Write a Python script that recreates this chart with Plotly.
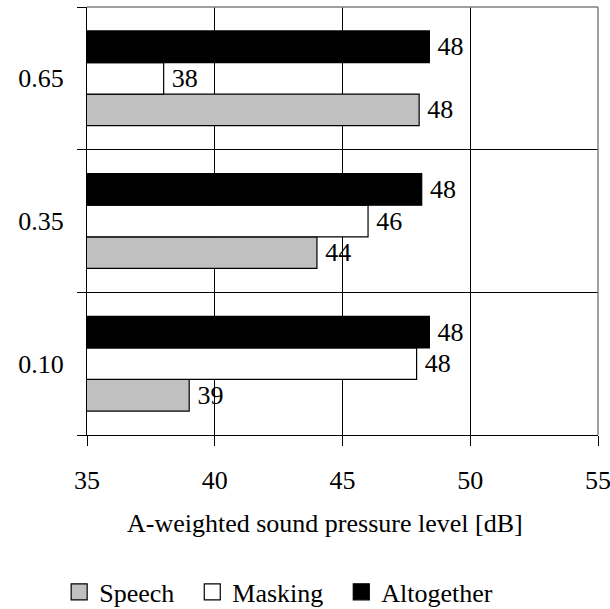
import plotly.graph_objects as go

# Relative level categories (bottom to top)
categories = ["0.10", "0.35", "0.65"]

# A-weighted sound pressure level [dB] per series
speech = [39.0, 44.0, 48.0]
masking = [47.9, 46.0, 38.0]
altogether = [48.4, 48.1, 48.4]

series_names = ["Speech", "Masking", "Altogether"]
series_values = [speech, masking, altogether]
series_fill = ["#c0c0c0", "#ffffff", "#000000"]

x_ticks = [35, 40, 45, 50, 55]
x_title = "A-weighted sound pressure level [dB]"

FONT = "Liberation Serif, Times New Roman, serif"
FS = 26
NBSP = "\u00a0"

fig = go.Figure()
for name, vals, fill in zip(series_names, series_values, series_fill):
    fig.add_trace(go.Bar(
        name=name,
        y=categories,
        x=vals,
        orientation="h",
        marker=dict(color=fill, line=dict(color="#000000", width=1.2)),
        texttemplate="\u2009%{x:.0f}",
        textposition="outside",
        textfont=dict(family=FONT, size=FS, color="#000000"),
        constraintext="none",
        cliponaxis=False,
        showlegend=False,
    ))

# Legend entries drawn as square swatches
for name, fill in zip(series_names, series_fill):
    fig.add_trace(go.Scatter(
        name=name + NBSP * 2,
        x=[None],
        y=[None],
        mode="markers",
        marker=dict(symbol="square", size=16, color=fill,
                    line=dict(color="#000000", width=1.2)),
        showlegend=True,
    ))

fig.update_layout(
    width=610,
    height=609,
    margin=dict(l=87, r=12, t=7, b=174),
    paper_bgcolor="#ffffff",
    plot_bgcolor="#ffffff",
    barmode="group",
    bargap=0.336,
    bargroupgap=0,
    font=dict(family=FONT, size=FS, color="#000000"),
    showlegend=True,
    legend=dict(
        orientation="h",
        xref="container",
        yref="container",
        x=0.097,
        xanchor="left",
        y=0.028,
        yanchor="middle",
        font=dict(family=FONT, size=FS, color="#000000"),
        traceorder="normal",
        itemwidth=30,
    ),
    xaxis=dict(
        range=[35, 55],
        tickvals=x_ticks,
        ticktext=[str(v) for v in x_ticks],
        ticks="outside",
        ticklen=10,
        tickcolor="#000000",
        showline=True,
        linecolor="#000000",
        linewidth=1,
        showgrid=True,
        gridcolor="#000000",
        gridwidth=1,
        zeroline=False,
        automargin=False,
        ticklabeloverflow="allow",
        ticklabelstandoff=12,
        tickfont=dict(family=FONT, size=FS),
    ),
    yaxis=dict(
        type="category",
        categoryorder="array",
        categoryarray=categories,
        tickson="boundaries",
        ticks="outside",
        ticklen=9,
        tickcolor="#000000",
        showline=True,
        linecolor="#000000",
        linewidth=1,
        showgrid=True,
        gridcolor="#000000",
        gridwidth=1,
        zeroline=False,
        automargin=False,
        ticklabelstandoff=17,
        tickfont=dict(family=FONT, size=FS),
    ),
    annotations=[
        dict(text=x_title, xref="paper", yref="paper", x=0.465, y=-0.206,
             xanchor="center", yanchor="middle", showarrow=False,
             font=dict(family=FONT, size=FS, color="#000000")),
    ],
    shapes=[
        dict(type="line", xref="paper", yref="paper", x0=0, x1=1, y0=1, y1=1,
             line=dict(color="#808080", width=1.5), layer="above"),
        dict(type="line", xref="paper", yref="paper", x0=1, x1=1, y0=0, y1=1,
             line=dict(color="#808080", width=1.5), layer="above"),
    ],
)

fig.write_html("out.html")
